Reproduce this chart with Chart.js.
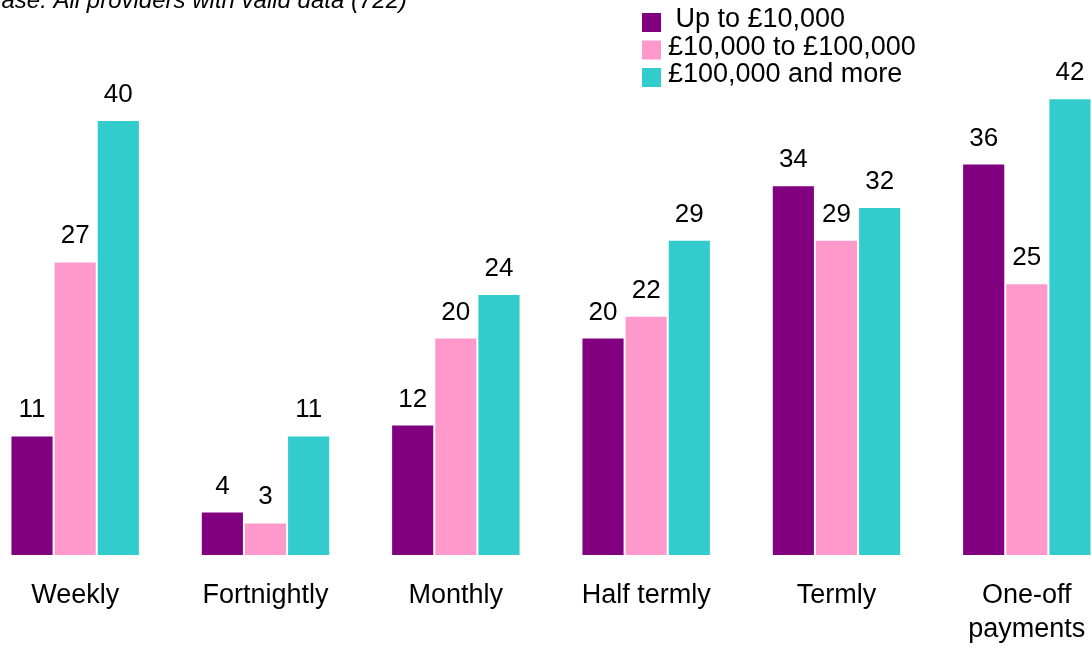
<!DOCTYPE html>
<html>
<head>
<meta charset="utf-8">
<script src="https://cdn.jsdelivr.net/npm/chart.js@4.4.1/dist/chart.umd.min.js"></script>
<style>
  html, body { margin: 0; padding: 0; background: #fff; overflow: hidden; }
  #wrap { position: absolute; left: -20px; top: 0; width: 1142px; height: 648px; }
</style>
</head>
<body>
<div id="wrap"><canvas id="region"></canvas></div>
<script>
const categories = ['Weekly', 'Fortnightly', 'Monthly', 'Half termly', 'Termly', ['One-off', 'payments']];
const seriesNames = [' Up to £10,000', '£10,000 to £100,000', '£100,000 and more'];
const upTo10k = [11, 4, 12, 20, 34, 36];
const from10kTo100k = [27, 3, 20, 22, 29, 25];
const over100k = [40, 11, 24, 29, 32, 42];
const colours = ['#800080', '#FF99CC', '#33CCCC'];
const baseNote = 'Base: All providers with valid data (722)';

const FONT = '"Liberation Sans", Arial, sans-serif';
Chart.defaults.font.family = FONT;
Chart.defaults.color = '#000';

// value labels above each bar
const barValues = {
  id: 'barValues',
  afterDatasetsDraw(chart) {
    let ctx = chart.ctx;
    ctx.save();
    ctx.font = '26px ' + FONT;
    ctx.fillStyle = '#000';
    ctx.textAlign = 'center';
    ctx.textBaseline = 'alphabetic';
    chart.data.datasets.forEach((ds, i) => {
      chart.getDatasetMeta(i).data.forEach((bar, j) => {
        ctx.fillText(ds.data[j], bar.x, bar.y - 18);
      });
    });
    ctx.restore();
  }
};

// legend in the top right and the base note top left
const extras = {
  id: 'extras',
  afterDraw(chart) {
    let ctx = chart.ctx;
    ctx.save();
    chart.data.datasets.forEach((ds, i) => {
      let top = 13 + i * 27.5;
      ctx.fillStyle = ds.backgroundColor;
      ctx.fillRect(662, top, 19, 19);
      ctx.fillStyle = '#000';
      ctx.font = '27px ' + FONT;
      ctx.textAlign = 'left';
      ctx.textBaseline = 'alphabetic';
      ctx.fillText(ds.label, 688, top + 14);
    });
    ctx.font = 'italic 24px ' + FONT;
    ctx.textAlign = 'right';
    ctx.fillText(baseNote, 427, 8);
    ctx.restore();
  }
};

let ctx = document.getElementById('region').getContext('2d');
let chart = new Chart(ctx, {
  type: 'bar',
  data: {
    labels: categories,
    datasets: [
      { label: seriesNames[0], data: upTo10k, backgroundColor: colours[0] },
      { label: seriesNames[1], data: from10kTo100k, backgroundColor: colours[1] },
      { label: seriesNames[2], data: over100k, backgroundColor: colours[2] }
    ]
  },
  options: {
    responsive: true,
    maintainAspectRatio: false,
    animation: false,
    datasets: {
      bar: {
        categoryPercentage: 0.68,
        barPercentage: 1.0,
        borderWidth: 1,
        borderColor: '#fff'
      }
    },
    layout: { padding: { top: 11.25, bottom: 1.5, left: 0, right: 0 } },
    plugins: {
      legend: { display: false },
      tooltip: { enabled: false }
    },
    scales: {
      x: {
        grid: { display: false, drawTicks: false },
        border: { display: false },
        afterFit(scale) { scale.height = 91.5; },
        ticks: {
          padding: 24,
          maxRotation: 0,
          autoSkip: false,
          font: { size: 27, lineHeight: 1.25 }
        }
      },
      y: {
        display: false,
        min: 0,
        max: 50
      }
    }
  },
  plugins: [barValues, extras]
});
</script>
</body>
</html>
